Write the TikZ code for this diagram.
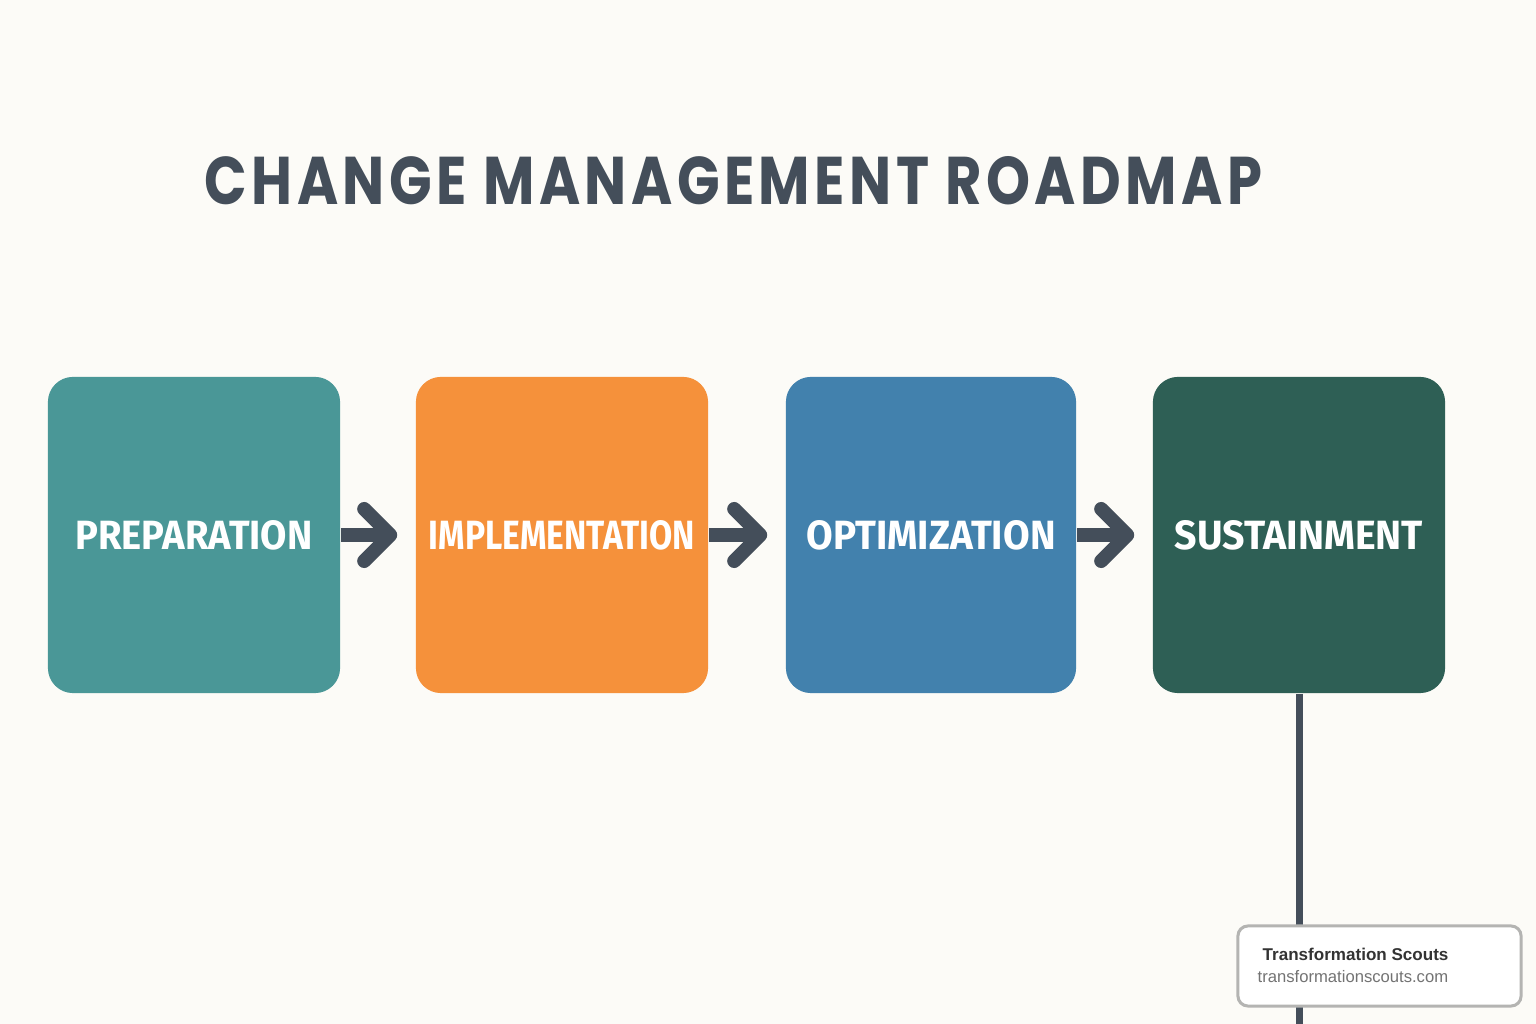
\documentclass[tikz,border=0pt]{standalone}
\usepackage{fontspec}
\setmainfont{Liberation Sans}
\newfontfamily\titlefont{Poppins}[LetterSpace=8]
\newfontfamily\phasefont{Fira Sans}
\usetikzlibrary{positioning,arrows.meta}

\definecolor{bgpaper}{HTML}{FCFBF7}
\definecolor{slate}{HTML}{444E5A}
\definecolor{tealbox}{HTML}{4A9797}
\definecolor{orangebox}{HTML}{F5913B}
\definecolor{bluebox}{HTML}{4281AD}
\definecolor{greenbox}{HTML}{2E5F55}
\definecolor{cardline}{HTML}{B4B4B2}

% label squeezed to the width it has in the picture
\newcommand{\phaselabel}[2]{\resizebox{#1}{0.29cm}{#2}}

\tikzset{
    phase/.style={rounded corners=0.25cm, minimum width=2.92cm, minimum height=3.16cm,
        inner sep=0pt, text=white, font=\phasefont\bfseries\fontsize{12.5}{14}\selectfont},
    flow/.style={draw=slate, line width=0.14cm, line join=round, shorten >=0.18cm,
        -{Straight Barb[length=0.26cm, width=0.52cm, line cap=round, line join=round]}},
}

\begin{document}
\begin{tikzpicture}[x=0.01cm, y=0.01cm]
    \useasboundingbox[fill=bgpaper] (0,0) rectangle (1536,1024);

    % title
    \node[text=slate, inner sep=0pt] (title) at (733.5,843) {\resizebox{10.57cm}{0.48cm}{\titlefont\bfseries CHANGE MANAGEMENT ROADMAP}};

    % phases
    \node[phase, fill=tealbox] (prep) at (194,489) {\phaselabel{2.37cm}{PREPARATION}};
    \node[phase, fill=orangebox] (impl) at (562,489) {\phaselabel{2.66cm}{IMPLEMENTATION}};
    \node[phase, fill=bluebox, minimum width=2.9cm] (optim) at (931,489) {\phaselabel{2.49cm}{OPTIMIZATION}};
    \node[phase, fill=greenbox] (sust) at (1299,489) {\phaselabel{2.48cm}{SUSTAINMENT}};

    \draw[flow] (prep.east) -- (impl.west);
    \draw[flow] (impl.east) -- (optim.west);
    \draw[flow] (optim.east) -- (sust.west);

    % footer card
    \coordinate (lineend) at (1299,0);
    \draw[slate, line width=0.07cm] (sust.south) -- (lineend);
    \node[draw=cardline, line width=0.03cm, fill=white, rounded corners=0.1cm,
        minimum width=2.83cm, minimum height=0.8cm, inner sep=0pt] (card) at (1379.5,58) {};
    \node[anchor=west, inner sep=0pt, text=black!80, font=\bfseries\fontsize{4.85}{6}\selectfont] (cardname) at (1262,70) {Transformation Scouts};
    \node[anchor=west, inner sep=0pt, text=black!55, font=\fontsize{4.73}{6}\selectfont] (cardurl) at (1257,47) {transformationscouts.com};
\end{tikzpicture}
\end{document}
